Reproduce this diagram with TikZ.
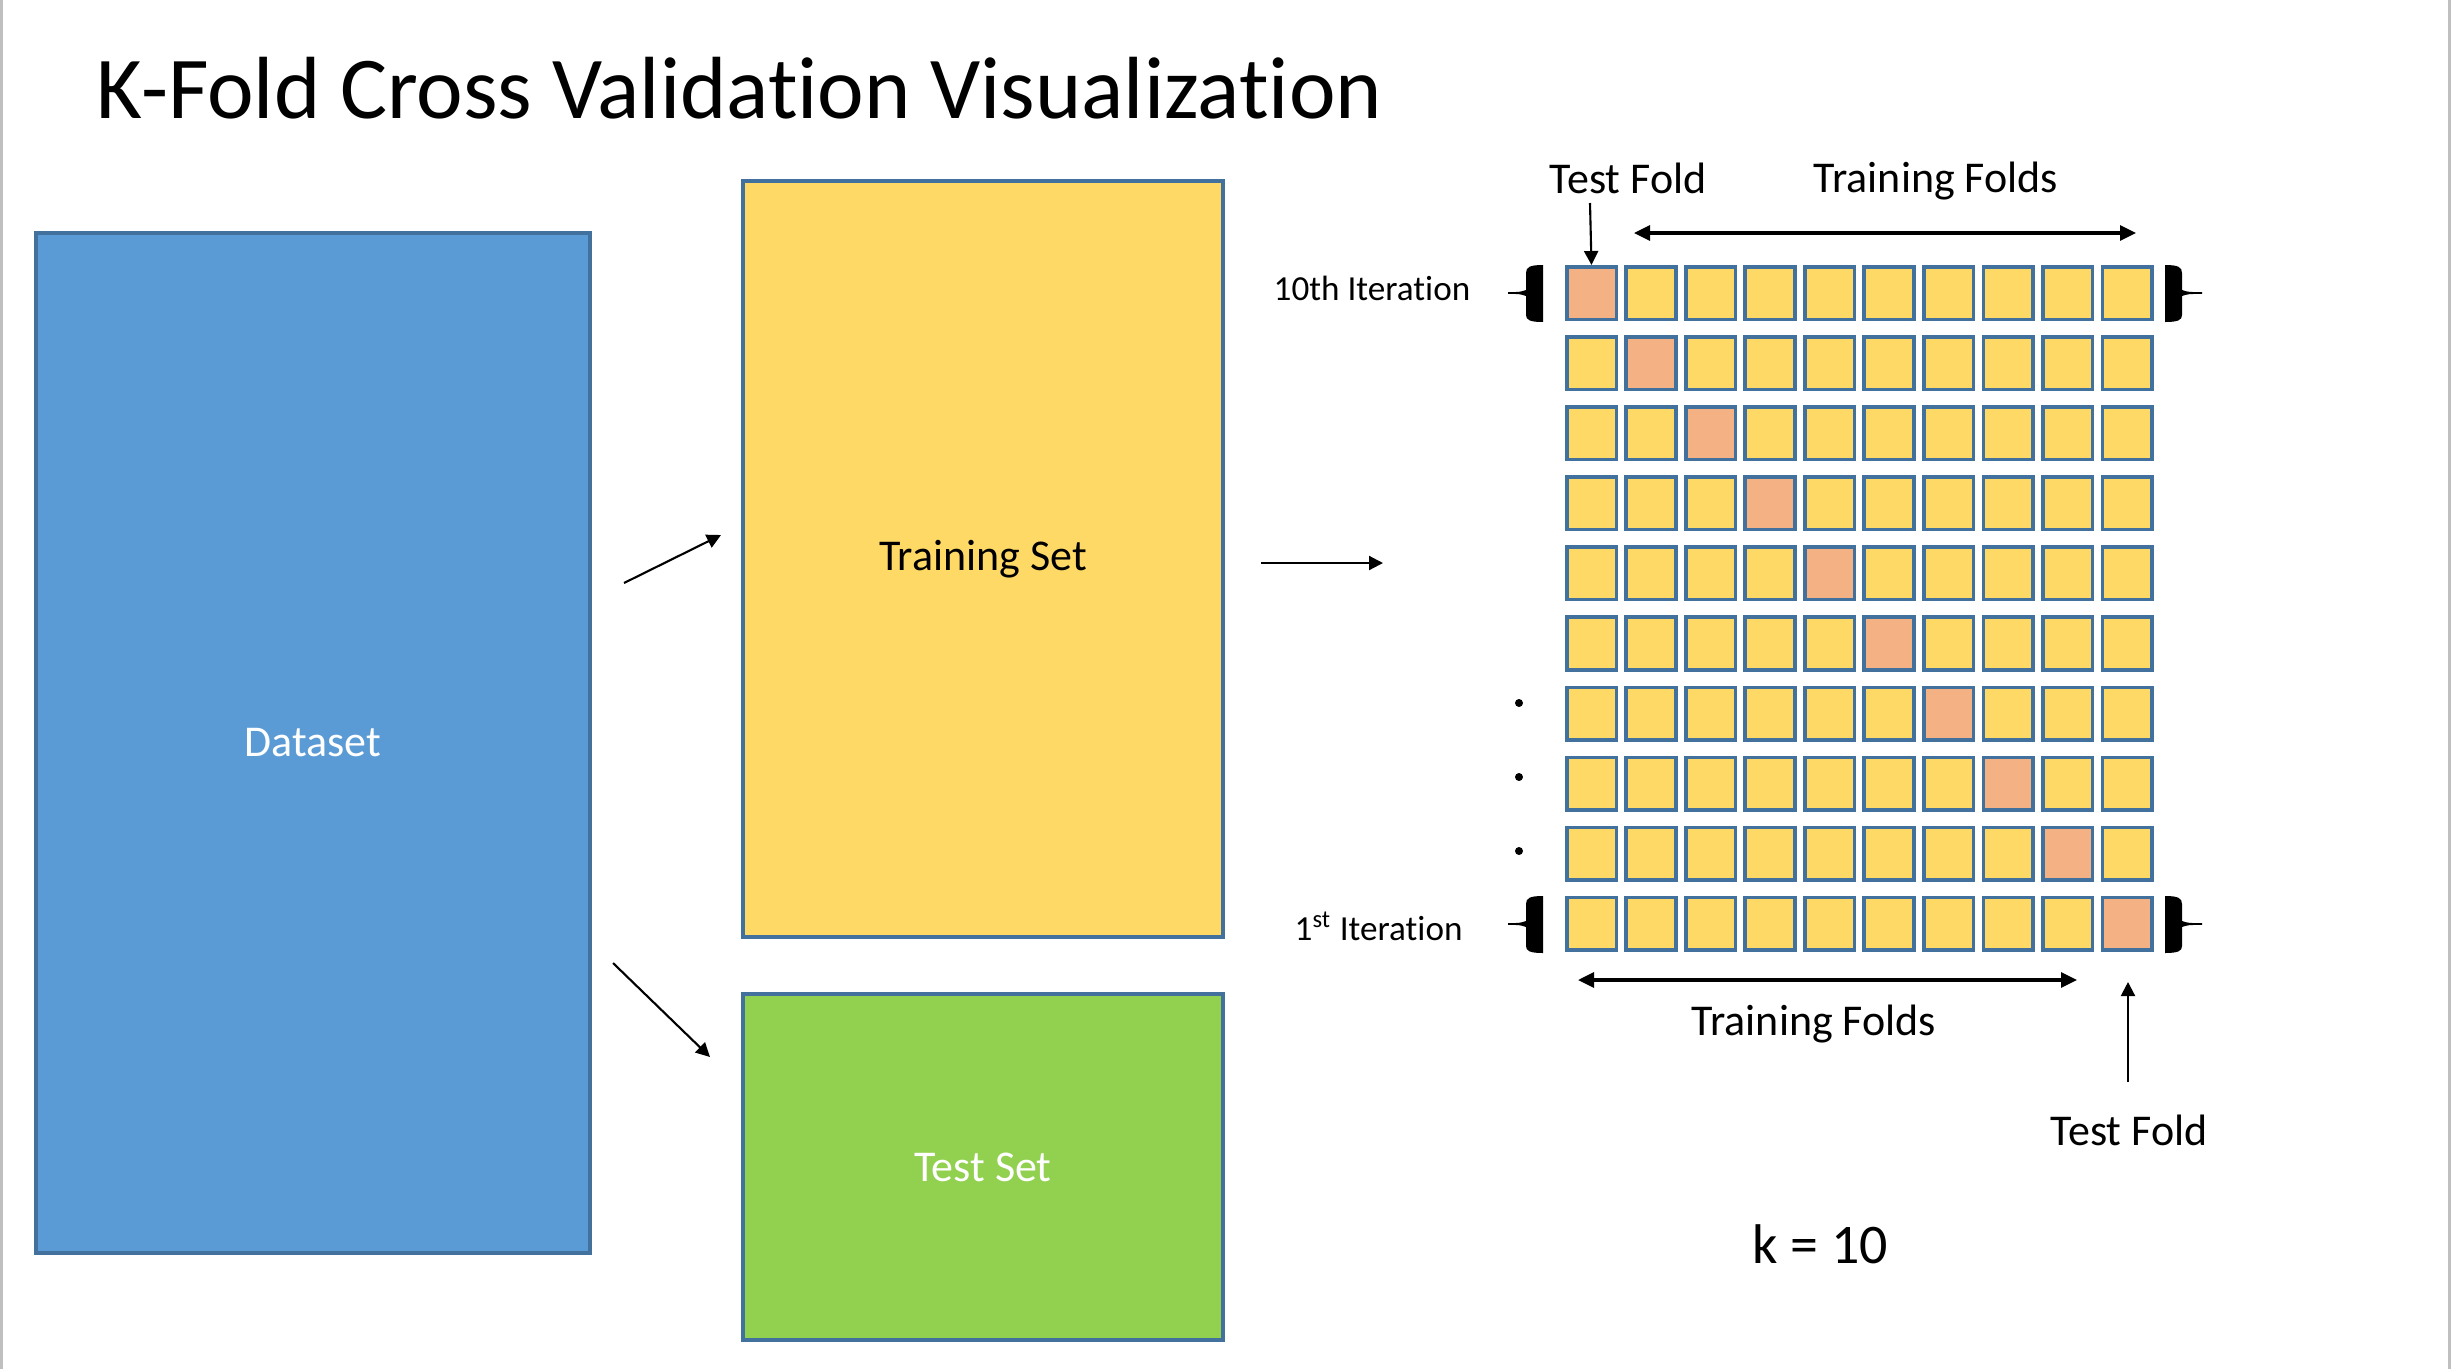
\documentclass[tikz,border=0pt]{standalone}
\usepackage{fontspec}
\setmainfont{Carlito}[Ligatures={TeX,NoCommon}]
\usetikzlibrary{arrows.meta}
\definecolor{edgeblue}{HTML}{41719C}
\definecolor{dsblue}{HTML}{5B9BD5}
\definecolor{trainyellow}{HTML}{FFD966}
\definecolor{testgreen}{HTML}{92D050}
\definecolor{testorange}{HTML}{F4B183}
\definecolor{framegray}{HTML}{BFBFBF}
\begin{document}
\begin{tikzpicture}[
    x=0.01cm, y=-0.01cm,
    block/.style={draw=edgeblue, line width=1.14pt, inner sep=0pt, font=\fontsize{12.5}{15}\selectfont},
    fold/.style={draw=edgeblue, fill=trainyellow, line width=1pt, inner sep=0pt,
        minimum width=0.495cm, minimum height=0.525cm},
    testfold/.style={fold, fill=testorange},
    txt/.style={inner sep=0pt, anchor=base west, font=\fontsize{12.5}{15}\selectfont},
    thin arrow/.style={-{Triangle[length=0.14cm, width=0.14cm]}, line width=0.6pt},
    wide arrow/.style={{Triangle[length=0.16cm, width=0.15cm]}-{Triangle[length=0.16cm, width=0.15cm]}, line width=0.9pt}
]
    \useasboundingbox (0,0) rectangle (2451,1369);
    \fill[framegray] (0,0) rectangle (3,1369);
    \fill[framegray] (2448,0) rectangle (2451,1369);

    \node[txt, font=\fontsize{25.1}{30}\selectfont] (title) at (96,118) {K-Fold Cross Validation Visualization};

    % Dataset and its split
    \node[block, fill=dsblue, text=white, minimum width=5.54cm, minimum height=10.19cm] (dataset) at (313,743) {Dataset};
    \node[block, fill=trainyellow, minimum width=4.8cm, minimum height=7.55cm] (trainset) at (983,559) {Training Set};
    \node[block, fill=testgreen, text=white, minimum width=4.8cm, minimum height=3.45cm] (testset) at (983,1167) {Test Set};

    \coordinate (split-a) at (624,583);
    \coordinate (split-b) at (721,535);
    \coordinate (split-c) at (613,963);
    \coordinate (split-d) at (710,1057);
    \coordinate (grid-a) at (1261,563);
    \coordinate (grid-b) at (1383,563);
    \draw[thin arrow] (split-a) -- (split-b);
    \draw[thin arrow] (split-c) -- (split-d);
    \draw[thin arrow] (grid-a) -- (grid-b);

    % Folds, one row per iteration
    \foreach \r in {1,...,10} {
        \foreach \c in {1,...,10} {
            \ifnum\r=\c \def\kind{testfold}\else\def\kind{fold}\fi
            \node[style=\kind] (f-\r-\c) at ({1532+59.5*\c},{222.9+70.1*\r}) {};
        }
    }

    % Braces on the first and last rows
    \foreach \cy in {293,924} {
        \fill[shift={(1534,\cy)}] (9,-28) .. controls (-4,-28) and (-8,-26) .. (-8,-20) -- (-8,-3)
            .. controls (-14,-1) .. (-26,-0.8) -- (-26,0.8) .. controls (-14,1) .. (-8,3) -- (-8,22)
            .. controls (-8,27) and (-4,29) .. (9,29) -- cycle;
        \fill[shift={(2174,\cy)}, xscale=-1] (9,-28) .. controls (-4,-28) and (-8,-26) .. (-8,-20) -- (-8,-3)
            .. controls (-14,-1) .. (-28,-0.8) -- (-28,0.8) .. controls (-14,1) .. (-8,3) -- (-8,22)
            .. controls (-8,27) and (-4,29) .. (9,29) -- cycle;
    }
    \foreach \dy in {703,777,851}
        \fill (1519,\dy) circle[radius=0.04cm];

    \node[txt, font=\fontsize{10}{12}\selectfont] (iter10) at (1273,300) {10th Iteration};
    \node[txt, font=\fontsize{10}{12}\selectfont] (iter1) at (1294,940) {1\textsuperscript{st} Iteration};

    % Annotations above
    \node[txt] (top-test) at (1549,193) {Test Fold};
    \node[txt] (top-train) at (1813,192) {Training Folds};
    \coordinate (top-test-tail) at (1590,203);
    \coordinate (top-train-a) at (1634,233);
    \coordinate (top-train-b) at (2136,233);
    \draw[thin arrow] (top-test-tail) -- (f-1-1.north);
    \draw[wide arrow] (top-train-a) -- (top-train-b);

    % Annotations below
    \node[txt] (bot-train) at (1691,1035) {Training Folds};
    \node[txt] (bot-test) at (2050,1145) {Test Fold};
    \coordinate (bot-train-a) at (1578,980);
    \coordinate (bot-train-b) at (2077,980);
    \coordinate (bot-test-tail) at (2128,1082);
    \coordinate (bot-test-tip) at (2128,982);
    \draw[wide arrow] (bot-train-a) -- (bot-train-b);
    \draw[thin arrow] (bot-test-tail) -- (bot-test-tip);

    \node[txt, font=\fontsize{15.9}{19}\selectfont] (kval) at (1752,1263) {k = 10};
\end{tikzpicture}
\end{document}
